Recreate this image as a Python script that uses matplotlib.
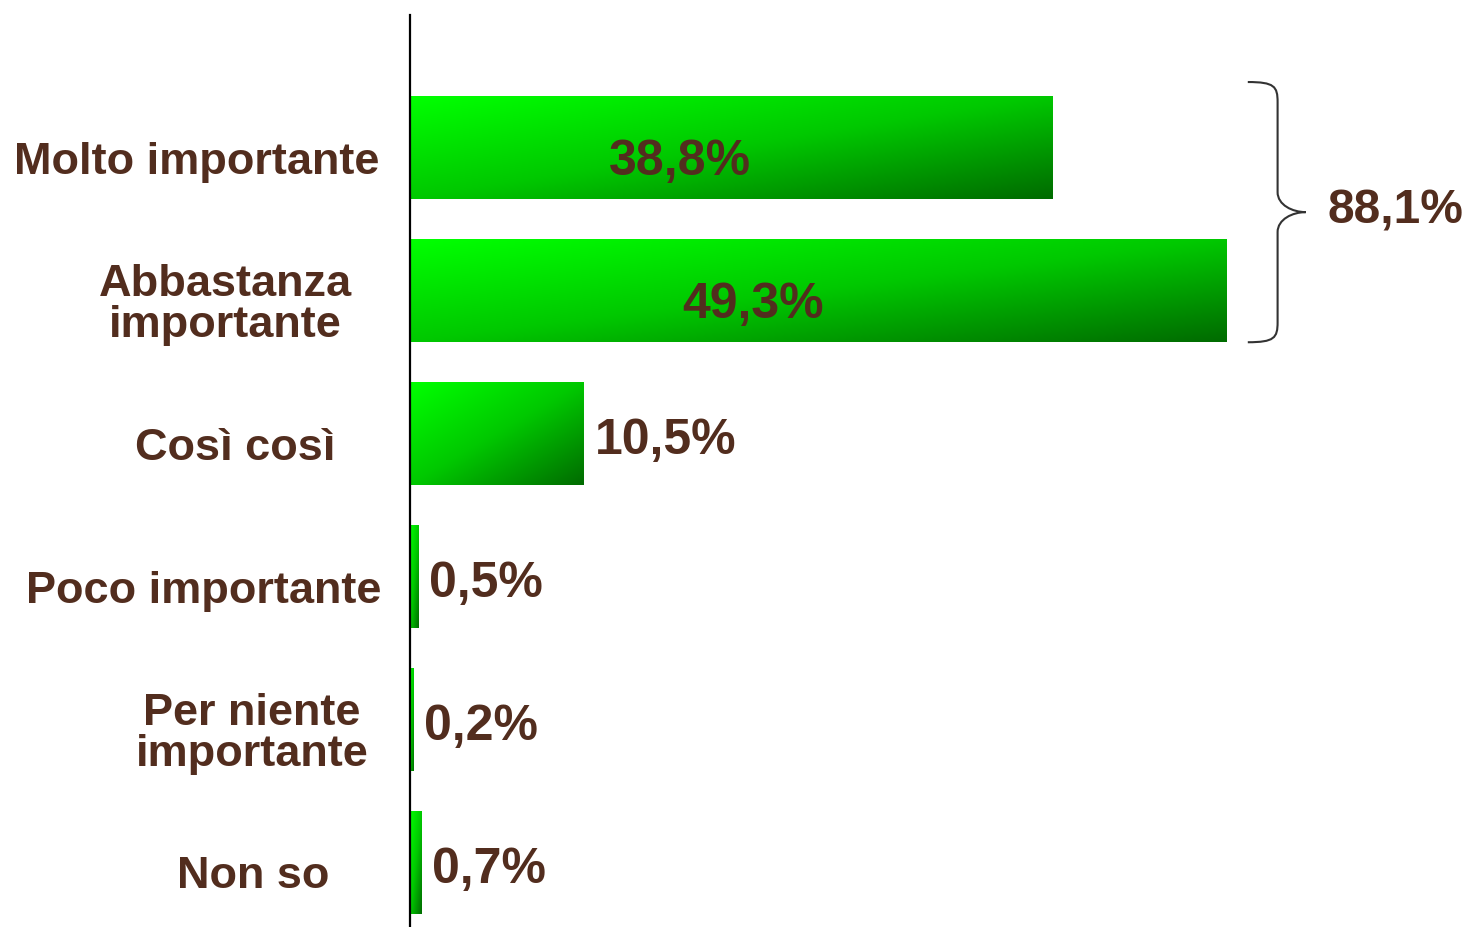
import numpy as np
import matplotlib.pyplot as plt
from matplotlib.colors import LinearSegmentedColormap
from matplotlib.path import Path
from matplotlib.patches import PathPatch

categories = ["Molto importante", "Abbastanza\nimportante", "Così così",
              "Poco importante", "Per niente\nimportante", "Non so"]
values = [38.8, 49.3, 10.5, 0.5, 0.2, 0.7]
value_labels = ["38,8%", "49,3%", "10,5%", "0,5%", "0,2%", "0,7%"]
total_label = "88,1%"

brown = "#522d1e"
plt.rcParams['font.family'] = ['Liberation Sans', 'DejaVu Sans']
cmap = LinearSegmentedColormap.from_list("grn", ["#00ff00", "#00c800", "#006c00"])

fig = plt.figure(figsize=(14.68, 9.27), dpi=100)
ax = fig.add_axes([0.2793, 0.0, 0.7207, 0.984])

idx = np.arange(len(values))
bars = ax.barh(idx, values, height=0.72, color="none", edgecolor="none")

# diagonal gradient fill inside each bar
grad = np.add.outer(np.linspace(0, 1, 60), np.linspace(0, 1, 60)) / 2
for b in bars:
    x0, y0, w, h = b.get_x(), b.get_y(), b.get_width(), b.get_height()
    ax.imshow(grad, cmap=cmap, extent=(x0, x0 + w, y0 + h, y0), origin="upper",
              aspect="auto", interpolation="bilinear", zorder=2)

ax.set_xlim(0, 63.9)
ax.set_ylim(5.45, -0.93)

for s in ["top", "right", "bottom"]:
    ax.spines[s].set_visible(False)
ax.spines["left"].set_linewidth(1.6)
ax.spines["left"].set_color("black")
ax.set_xticks([])
ax.set_yticks([])

# category labels
label_x = [197, 225, 235, 204, 252, 253]
for i, (cat, px) in enumerate(zip(categories, label_x)):
    ax.text((px - 410) / 1058, i + 0.1, cat, transform=ax.get_yaxis_transform(),
            ha="center", va="center", fontsize=32.5, fontweight="bold",
            color=brown, linespacing=1.0)

# value labels
for i, (v, lab) in enumerate(zip(values, value_labels)):
    if v > 30:
        ax.text(v * 0.42, i + 0.1, lab, ha="center", va="center",
                fontsize=36, fontweight="bold", color=brown, zorder=3)
    else:
        ax.text(v + 0.65, i + 0.05, lab, ha="left", va="center",
                fontsize=36, fontweight="bold", color=brown, zorder=3)

# curly brace spanning the first two bars
bx0, bx1, btip = 50.6, 52.4, 54.1
ytop, ybot, ymid = -0.46, 1.36, 0.45
verts = [(bx0, ytop), (bx1 - 0.2, ytop), (bx1, ytop + 0.03), (bx1, ytop + 0.14),
         (bx1, ymid - 0.14),
         (bx1, ymid - 0.05), (btip - 0.8, ymid), (btip, ymid),
         (btip - 0.8, ymid), (bx1, ymid + 0.05), (bx1, ymid + 0.14),
         (bx1, ybot - 0.14),
         (bx1, ybot - 0.03), (bx1 - 0.2, ybot), (bx0, ybot)]
codes = [Path.MOVETO, Path.CURVE4, Path.CURVE4, Path.CURVE4,
         Path.LINETO,
         Path.CURVE4, Path.CURVE4, Path.CURVE4,
         Path.CURVE4, Path.CURVE4, Path.CURVE4,
         Path.LINETO,
         Path.CURVE4, Path.CURVE4, Path.CURVE4]
ax.add_patch(PathPatch(Path(verts, codes), facecolor="none", edgecolor="#333333",
                       lw=1.5, clip_on=False))
ax.text(55.4, ymid - 0.01, total_label, ha="left", va="center", fontsize=34.5,
        fontweight="bold", color=brown)

fig.savefig("out.png", dpi=100, facecolor="white")
